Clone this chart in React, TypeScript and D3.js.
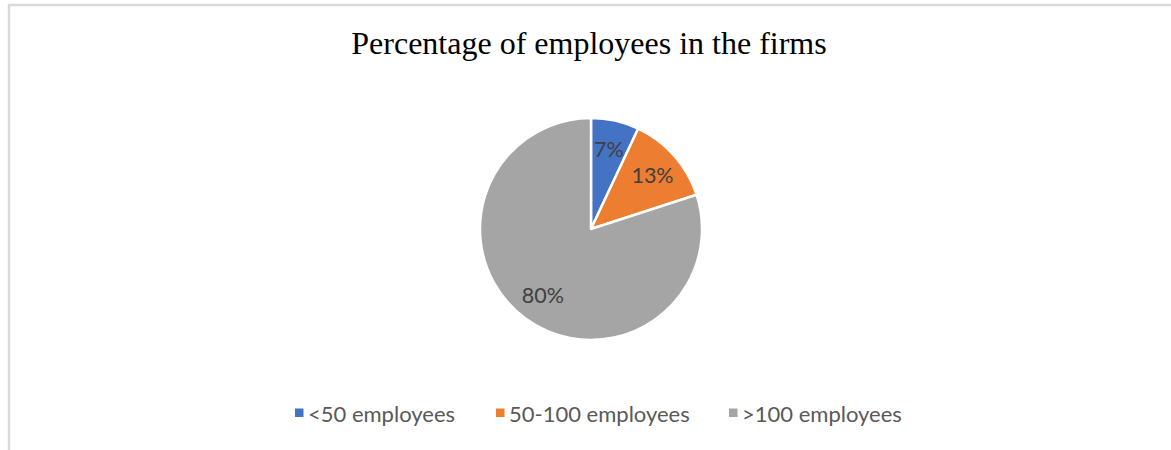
import React from "react";
import * as d3 from "d3";

const title = "Percentage of employees in the firms";
const categories = ["<50 employees", "50-100 employees", ">100 employees"];
const values = [7, 13, 80];
const colors = ["#4472C4", "#ED7D31", "#A5A5A5"];

const W = 1171;
const H = 450;

export default function App() {
  const cx = 591;
  const cy = 229;
  const r = 111;
  const pie = d3.pie<number>().sort(null).value((d) => d)(values);
  const arc = d3.arc<d3.PieArcDatum<number>>().innerRadius(0).outerRadius(r);
  const labelArc = d3.arc<d3.PieArcDatum<number>>().innerRadius(82).outerRadius(82);
  const total = d3.sum(values);

  // legend layout
  const legendX = [295, 496, 729];
  const legendY = 413;

  return (
    <svg
      width={W}
      height={H}
      style={{ position: "absolute", left: 0, top: 0, display: "block", background: "#fff" }}
    >
      <rect x={9} y={5} width={W + 20} height={H + 20} fill="#fff" stroke="#d9d9d9" strokeWidth={2.5} />
      <text
        x={589}
        y={54}
        textAnchor="middle"
        fontFamily="'Liberation Serif', 'Times New Roman', serif"
        fontSize={32}
        fill="#000"
      >
        {title}
      </text>
      <g transform={`translate(${cx},${cy})`}>
        {pie.map((p, i) => (
          <path key={i} d={arc(p) || ""} fill={colors[i]} stroke="#fff" strokeWidth={2.5} strokeLinejoin="round" />
        ))}
        {pie.map((p, i) => {
          const [lx, ly] = labelArc.centroid(p);
          return (
            <text
              key={"l" + i}
              x={lx}
              y={ly}
              textAnchor="middle"
              dominantBaseline="central"
              fontFamily="Lato, 'Noto Sans', sans-serif"
              fontSize={21.5}
              fill="#404040"
            >
              {Math.round((values[i] / total) * 100) + "%"}
            </text>
          );
        })}
      </g>
      <g>
        {categories.map((c, i) => (
          <g key={c} transform={`translate(${legendX[i]},${legendY})`}>
            <rect x={0} y={-4.5} width={8.5} height={8.5} fill={colors[i]} />
            <text
              x={13}
              y={0}
              dominantBaseline="central"
              fontFamily="Lato, 'Noto Sans', sans-serif"
              fontSize={22}
              fill="#595959"
            >
              {c}
            </text>
          </g>
        ))}
      </g>
    </svg>
  );
}
